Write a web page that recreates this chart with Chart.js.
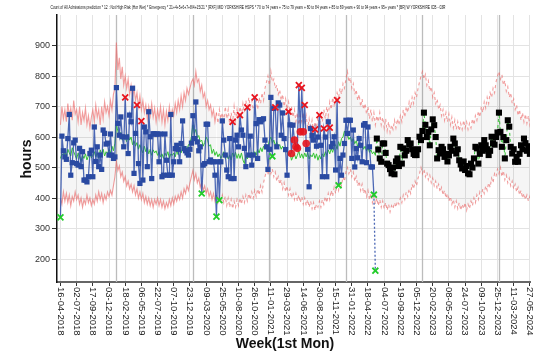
<!DOCTYPE html>
<html>
<head>
<meta charset="utf-8">
<script src="https://cdn.jsdelivr.net/npm/chart.js@4.4.1/dist/chart.umd.min.js"></script>
<style>
  html, body { margin: 0; padding: 0; background: #fff; overflow: hidden; }
  #wrap { position: relative; width: 536px; height: 352px; }
</style>
</head>
<body>
<div id="wrap"><canvas id="graph1" width="536" height="352"></canvas></div>
<script>
// weekly data, week 0 = 16-04-2018
const startDate = '2018-04-16';

const tickLabels = ['16-04-2018', '02-07-2018', '17-09-2018', '03-12-2018', '18-02-2019', '06-05-2019',
  '22-07-2019', '07-10-2019', '23-12-2019', '09-03-2020', '25-05-2020', '10-08-2020', '26-10-2020',
  '11-01-2021', '29-03-2021', '14-06-2021', '30-08-2021', '15-11-2021', '31-01-2022', '18-04-2022',
  '04-07-2022', '19-09-2022', '05-12-2022', '20-02-2023', '08-05-2023', '24-07-2023', '09-10-2023',
  '25-12-2023', '11-03-2024', '27-05-2024'];
const yTicks = [200, 300, 400, 500, 600, 700, 800, 900];
const yearStarts = ['2019-01-07', '2020-01-06', '2021-01-04', '2022-01-03', '2023-01-02', '2024-01-01'];

// observed hours
const actual = [
  337, 603, 555, 535, 527, 595, 674, 475, 516, 581, 590,
  513, 508, 563, 503, 552, 459, 459, 453, 470, 546, 557,
  470, 633, 520, 568, 503, 541, 494, 623, 612, 577, 580,
  541, 610, 541, 530, 535, 762, 645, 606, 666, 601, 568,
  730, 600, 546, 672, 650, 760, 481, 612, 705, 513, 448,
  652, 459, 633, 617, 503, 683, 601, 464, 611, 610, 610,
  610, 519, 610, 470, 475, 610, 524, 475, 475, 674, 475,
  519, 562, 573, 560, 519, 579, 653, 562, 555, 548, 541,
  560, 580, 670, 595, 715, 584, 555, 568, 415, 508, 513,
  642, 642, 519, 525, 519, 519, 475, 339, 519, 393, 519,
  653, 590, 541, 492, 470, 595, 464, 650, 464, 590, 606,
  568, 672, 623, 606, 563, 503, 697, 541, 603, 508, 541,
  730, 644, 530, 657, 650, 657, 660, 590, 568, 494, 560,
  730, 537, 694, 697, 568, 712, 705, 606, 679, 595, 559,
  475, 683, 640, 546, 639, 590, 568, 563, 770, 617, 761,
  617, 705, 579, 560, 437, 628, 605, 590, 625, 570, 600,
  672, 573, 470, 628, 600, 470, 650, 631, 568, 579, 601,
  492, 721, 442, 530, 475, 541, 579, 655, 612, 655, 655,
  530, 623, 502, 562, 532, 595, 573, 519, 639, 644, 516,
  633, 568, 502, 502, 411, 162
];

// model fit over the observed weeks
const fitted = [
  530, 545, 540, 555, 530, 560, 548, 538, 565, 552, 540,
  528, 548, 535, 520, 540, 530, 545, 525, 538, 550, 532,
  540, 552, 535, 548, 530, 558, 545, 560, 538, 552, 546,
  560, 548, 570, 555, 580, 640, 620, 600, 615, 590, 605,
  598, 585, 610, 590, 600, 575, 588, 570, 582, 560, 575,
  560, 548, 570, 552, 565, 545, 560, 540, 558, 548, 555,
  540, 552, 535, 545, 530, 548, 538, 552, 530, 545, 540,
  548, 535, 555, 542, 560, 548, 565, 552, 570, 558, 575,
  580, 600, 640, 612, 625, 598, 605, 585, 590, 570, 582,
  600, 590, 570, 575, 546, 560, 540, 552, 535, 545, 530,
  540, 552, 530, 545, 528, 540, 525, 548, 535, 550, 530,
  545, 530, 548, 525, 513, 540, 528, 545, 532, 550, 538,
  552, 540, 560, 548, 565, 552, 570, 560, 575, 568, 590,
  600, 580, 590, 572, 585, 568, 575, 560, 570, 555, 565,
  550, 540, 548, 524, 535, 545, 528, 540, 555, 532, 545,
  530, 548, 535, 550, 528, 542, 535, 548, 530, 545, 524,
  540, 528, 545, 535, 552, 540, 558, 545, 562, 550, 568,
  575, 560, 585, 570, 595, 600, 620, 605, 610, 592, 600,
  585, 595, 578, 588, 570, 580, 565, 575, 560, 570, 555,
  565, 550, 558, 545, 552, 540
];

// prediction, starts the week after the last observed one
const forecast = [
  595, 559, 530, 519, 579,
  579, 548, 513, 508, 495, 481, 500, 478, 520, 530, 505,
  568, 513, 563, 540, 555, 590, 575, 579, 560, 545, 541,
  541, 560, 601, 590, 620, 680, 640, 600, 617, 573, 625,
  658, 639, 600, 530, 557, 546, 568, 560, 535, 545, 520,
  540, 568, 555, 595, 579, 546, 560, 524, 510, 497, 520,
  492, 505, 481, 478, 513, 500, 530, 568, 563, 513, 545,
  573, 555, 590, 573, 560, 541, 555, 601, 580, 575, 600,
  615, 680, 617, 568, 600, 530, 590, 655, 634, 568, 546,
  560, 519, 535, 519, 545, 573, 560, 595, 580, 555, 570,
  545, 560, 538
];

const upper = [
  640, 700, 660, 690, 650, 710, 670, 695, 655, 720, 675,
  690, 650, 700, 640, 680, 655, 695, 640, 670, 630, 665,
  690, 650, 705, 665, 690, 640, 700, 660, 715, 680, 700,
  670, 720, 690, 740, 760, 910, 820, 860, 790, 830, 770,
  800, 760, 790, 740, 770, 730, 760, 720, 745, 700, 735,
  690, 720, 680, 705, 660, 700, 670, 710, 665, 695, 650,
  690, 660, 700, 650, 690, 640, 685, 655, 700, 660, 690,
  670, 710, 680, 720, 690, 735, 700, 745, 720, 760, 740,
  760, 780, 790, 770, 815, 780, 790, 750, 770, 730, 745,
  700, 720, 690, 705, 670, 690, 650, 680, 645, 690, 660,
  680, 650, 700, 660, 690, 640, 680, 650, 700, 655, 690,
  660, 700, 670, 710, 680, 720, 690, 730, 700, 720, 690,
  700, 720, 690, 730, 710, 745, 720, 760, 780, 800, 770,
  815, 780, 790, 760, 770, 740, 755, 720, 740, 700, 725,
  690, 715, 680, 700, 665, 690, 650, 680, 640, 670, 650,
  680, 640, 670, 630, 660, 625, 655, 620, 650, 630, 665,
  640, 675, 650, 690, 660, 700, 670, 715, 690, 730, 705,
  720, 745, 730, 760, 740, 775, 760, 790, 815, 780, 795,
  760, 775, 740, 755, 720, 740, 700, 725, 690, 710, 675,
  700, 660, 690, 650, 680, 640, 670, 650, 680, 640, 665,
  630, 660, 620, 650, 615, 640, 625, 655, 630, 660, 640,
  670, 650, 690, 665, 700, 680, 715, 695, 730, 710, 745,
  730, 760, 780, 800, 815, 790, 805, 770, 785, 750, 765,
  730, 745, 710, 725, 690, 705, 670, 690, 655, 680, 650,
  675, 640, 665, 630, 655, 625, 650, 620, 645, 625, 655,
  630, 650, 625, 645, 630, 660, 640, 670, 655, 685, 665,
  700, 680, 715, 695, 730, 710, 745, 730, 760, 745, 780,
  800, 815, 790, 805, 770, 785, 750, 765, 730, 745, 710,
  725, 690, 705, 670, 690, 655, 680, 650, 675, 645, 670,
  640, 665, 635
];

const lower = [
  400, 380, 420, 390, 415, 385, 410, 375, 405, 390, 420,
  395, 410, 380, 400, 370, 395, 380, 410, 385, 400, 375,
  395, 380, 410, 390, 420, 395, 415, 385, 410, 395, 420,
  405, 425, 410, 440, 470, 520, 490, 505, 470, 485, 455,
  470, 440, 455, 430, 445, 420, 440, 410, 430, 400, 420,
  395, 415, 385, 405, 380, 400, 375, 395, 370, 395, 380,
  400, 375, 395, 370, 390, 365, 385, 370, 395, 375, 400,
  380, 405, 390, 410, 395, 420, 400, 430, 415, 440, 425,
  450, 470, 490, 460, 480, 450, 465, 435, 450, 425, 440,
  415, 430, 405, 420, 395, 415, 390, 410, 385, 405, 390,
  410, 385, 405, 375, 400, 370, 395, 365, 390, 370, 395,
  375, 400, 380, 405, 385, 410, 390, 415, 395, 420, 400,
  425, 405, 430, 410, 440, 420, 450, 470, 490, 475, 500,
  480, 495, 470, 485, 455, 470, 445, 460, 430, 450, 420,
  440, 410, 430, 400, 420, 395, 415, 390, 410, 385, 405,
  380, 400, 375, 395, 370, 390, 365, 385, 360, 380, 370,
  390, 370, 395, 380, 405, 385, 415, 395, 425, 405, 435,
  415, 445, 425, 455, 440, 470, 455, 485, 500, 480, 495,
  470, 485, 455, 470, 440, 455, 425, 445, 415, 430, 405,
  425, 395, 415, 385, 405, 380, 400, 375, 395, 370, 390,
  365, 385, 360, 380, 355, 375, 365, 385, 370, 390, 380,
  400, 385, 410, 395, 420, 405, 430, 415, 445, 430, 455,
  440, 465, 480, 500, 480, 495, 470, 485, 460, 475, 450,
  465, 440, 455, 430, 445, 420, 435, 410, 425, 400, 415,
  390, 405, 380, 395, 370, 390, 365, 385, 360, 380, 365,
  385, 360, 380, 365, 390, 375, 400, 385, 410, 395, 420,
  405, 430, 415, 440, 425, 450, 435, 465, 450, 480, 470,
  495, 480, 500, 470, 490, 460, 475, 450, 465, 440, 455,
  430, 445, 420, 435, 410, 425, 400, 415, 395, 410, 390,
  405, 385, 400
];

// flagged weeks (index into actual)
const aboveWeeks = [44, 52, 55, 117, 122, 127, 132, 146, 155, 162, 164, 166, 173, 176, 179, 183, 188];
const belowWeeks = [0, 96, 106, 108, 144, 189, 213, 214];
const runWeeks = [157, 159, 160, 161, 163, 165, 167];

const titleText = 'Count of All Admissions prediction * 12 : Not High Risk (Hor Wer) * Emergency * 21+4+5+6+7+8/4+15/21 * [RXF] MID YORKSHIRE HSPS * 70 to 74 years + 75 to 79 years + 80 to 84 years + 85 to 89 years + 90 to 94 years + 95+ years * [BR] W YORKSHIRE ICB - 03R';

const limitDashFrom = 106;
const forecastStart = actual.length;

const weekOf = d => (Date.parse(d) - Date.parse(startDate)) / (7 * 864e5);
const pts = (arr, start = 0) => arr.map((v, k) => ({ x: start + k, y: v }));
const flagged = new Set([...aboveWeeks, ...belowWeeks, ...runWeeks]);
const limitDash = ctx => ctx.p0DataIndex >= limitDashFrom ? [3, 3] : undefined;

const extras = {
  id: 'extras',
  beforeDatasetsDraw(chart) {
    const { ctx, chartArea: a, scales: { x } } = chart;
    ctx.save();
    ctx.strokeStyle = '#bcbcbc';
    ctx.lineWidth = 1.3;
    yearStarts.forEach(d => {
      const px = Math.round(x.getPixelForValue(weekOf(d))) + 0.5;
      ctx.beginPath();
      ctx.moveTo(px, a.top);
      ctx.lineTo(px, a.bottom);
      ctx.stroke();
    });
    ctx.restore();
  },
  afterDraw(chart) {
    const { ctx, chartArea: a, scales: { x } } = chart;
    ctx.save();
    ctx.fillStyle = '#222';
    ctx.font = '9.5px "Liberation Sans", Arial, sans-serif';
    ctx.textAlign = 'left';
    ctx.textBaseline = 'middle';
    tickLabels.forEach((t, k) => {
      ctx.save();
      ctx.translate(x.getPixelForValue(k * 11), a.bottom + 5);
      ctx.rotate(Math.PI / 2);
      ctx.fillText(t, 0, 0);
      ctx.restore();
    });

    ctx.fillStyle = '#111';
    ctx.textAlign = 'center';
    ctx.font = 'bold 14px "Liberation Sans", Arial, sans-serif';
    ctx.fillText('Week(1st Mon)', 285, 344);
    ctx.save();
    ctx.translate(27, 159);
    ctx.rotate(-Math.PI / 2);
    ctx.fillText('hours', 0, 0);
    ctx.restore();

    ctx.font = '5.5px "Liberation Sans Narrow", "Liberation Sans", sans-serif';
    ctx.fillText(titleText, 248, 7, 395);
    ctx.restore();
  }
};

const data = {
  datasets: [
    {
      label: 'Above limit',
      data: aboveWeeks.map(i => ({ x: i, y: actual[i] })),
      showLine: false,
      pointStyle: 'crossRot',
      pointRadius: 4.2,
      pointBorderWidth: 1.8,
      borderColor: '#e8151f',
      order: 0
    },
    {
      label: 'Below limit',
      data: belowWeeks.map(i => ({ x: i, y: actual[i] })),
      showLine: false,
      pointStyle: 'crossRot',
      pointRadius: 4.2,
      pointBorderWidth: 1.8,
      borderColor: '#22cc2a',
      order: 0
    },
    {
      label: 'Run',
      data: runWeeks.map(i => ({ x: i, y: actual[i] })),
      showLine: false,
      pointStyle: 'circle',
      pointRadius: 3.8,
      pointBorderWidth: 0,
      backgroundColor: 'rgba(228,20,30,0.9)',
      order: 0
    },
    {
      label: 'Actual',
      data: pts(actual),
      borderColor: 'rgba(45,78,168,0.85)',
      borderWidth: 1.3,
      backgroundColor: '#2a4aa2',
      pointStyle: 'rect',
      pointRadius: ctx => flagged.has(ctx.dataIndex) ? 0 : 3.7,
      pointBorderWidth: 0,
      segment: { borderDash: ctx => ctx.p1DataIndex >= actual.length - 1 ? [2, 2] : undefined },
      order: 1
    },
    {
      label: 'Forecast',
      data: pts(forecast, forecastStart),
      showLine: false,
      pointStyle: 'rect',
      pointRadius: 4.3,
      pointBorderWidth: 0,
      backgroundColor: '#000',
      order: 2
    },
    {
      label: 'Fitted',
      data: pts(fitted.concat(forecast)),
      borderColor: '#35c435',
      borderWidth: 1,
      pointRadius: 0,
      segment: { borderDash: ctx => ctx.p0DataIndex >= forecastStart - 1 ? [3, 3] : undefined },
      order: 3
    },
    {
      label: 'Upper',
      data: pts(upper),
      borderColor: 'rgba(236,105,105,0.65)',
      borderWidth: 1.1,
      pointRadius: 0,
      fill: '+1',
      backgroundColor: 'rgba(0,0,0,0.04)',
      segment: { borderDash: limitDash },
      order: 4
    },
    {
      label: 'Lower',
      data: pts(lower),
      borderColor: 'rgba(236,105,105,0.65)',
      borderWidth: 1.1,
      pointRadius: 0,
      fill: false,
      segment: { borderDash: limitDash },
      order: 5
    }
  ]
};

const options = {
  responsive: false,
  animation: false,
  devicePixelRatio: 1,
  layout: { padding: { top: 15, right: 0, bottom: 0, left: 0 } },
  elements: { line: { tension: 0 } },
  plugins: { legend: { display: false }, tooltip: { enabled: false }, title: { display: false } },
  scales: {
    x: {
      type: 'linear',
      min: -2.35,
      max: 319.1,
      afterBuildTicks: s => { s.ticks = tickLabels.map((_, k) => ({ value: k * 11 })); },
      ticks: { display: false, autoSkip: false },
      grid: { color: '#e3e3e3', tickColor: '#333', tickLength: 4 },
      border: { color: '#666', width: 2 },
      afterFit: s => { s.height = 70; s.paddingLeft = 0; s.paddingRight = 0; }
    },
    y: {
      type: 'linear',
      min: 125,
      max: 1000,
      afterBuildTicks: s => { s.ticks = yTicks.map(v => ({ value: v })); },
      ticks: { color: '#333', padding: 2, font: { size: 9, family: '"Liberation Sans", Arial, sans-serif' } },
      grid: { color: '#e3e3e3', tickColor: '#333', tickLength: 5 },
      border: { color: '#111', width: 1.5 },
      afterFit: s => { s.width = 57; s.paddingTop = 0; s.paddingBottom = 0; }
    }
  }
};

const chart = new Chart(document.getElementById('graph1').getContext('2d'), {
  type: 'line',
  data: data,
  options: options,
  plugins: [extras]
});
</script>
</body>
</html>
